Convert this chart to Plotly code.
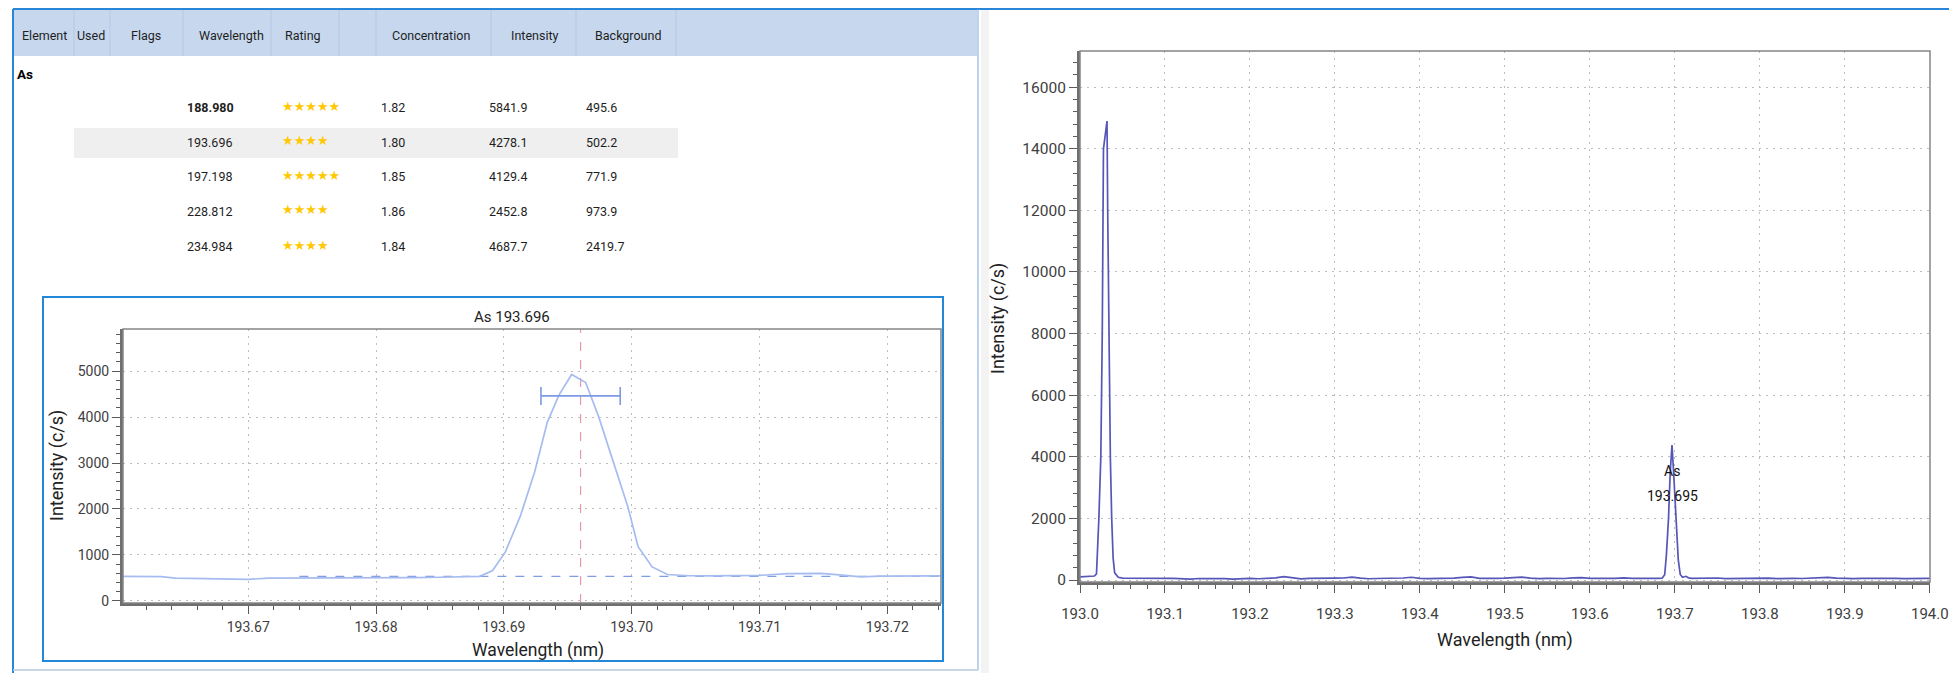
import plotly.graph_objects as go

# the page body keeps an 8px margin: the figure is drawn 8px in from the window edge
# and is sized so that the page never overflows the 1957x681 window
OX, OY = 8, 8
FW, FH = 1957 - 2 * OX, 681 - 2 * OY


def px(x):
    return (x - OX) / FW


def py(y):
    return 1 - (y - OY) / FH


# ---------------- table data ----------------
headers = ["Element", "Used", "Flags", "Wavelength", "Rating", "Concentration", "Intensity", "Background"]
element = "As"
line_wavelengths = ["188.980", "193.696", "197.198", "228.812", "234.984"]
ratings = [5, 4, 5, 4, 4]
concentrations = ["1.82", "1.80", "1.85", "1.86", "1.84"]
intensities = ["5841.9", "4278.1", "4129.4", "2452.8", "4687.7"]
backgrounds = ["495.6", "502.2", "771.9", "973.9", "2419.7"]

# ---------------- zoomed peak (As 193.696) ----------------
zoom_wl = [193.6600, 193.6610, 193.6620, 193.6632, 193.6643, 193.6655, 193.6670, 193.6688,
           193.6700, 193.6716, 193.6730, 193.6750, 193.6770, 193.6790, 193.6817, 193.6830,
           193.6850, 193.6870, 193.6881, 193.6891, 193.6901, 193.6913, 193.6924, 193.6934,
           193.6943, 193.6953, 193.6964, 193.6974, 193.6986, 193.6997, 193.7005, 193.7016,
           193.7028, 193.7045, 193.7060, 193.7080, 193.7100, 193.7122, 193.7148, 193.7165,
           193.7179, 193.7195, 193.7210, 193.7230, 193.7242]
zoom_int = [535, 535, 535, 530, 495, 490, 490, 488,
            470, 495, 495, 497, 497, 497, 500, 505,
            515, 525, 535, 655, 1055, 1855, 2800, 3890,
            4470, 4925, 4750, 4020, 3010, 2050, 1180, 740,
            575, 548, 545, 548, 555, 595, 598, 560,
            525, 538, 545, 545, 545]
background_level = 535
line_center = 193.696
bar_level = 4460
bar_halfwidth = 0.0031
bg_start, bg_end = 193.674, 193.7242

# ---------------- wide spectrum 193.0 - 194.0 nm ----------------
wide_wl = [193.000, 193.005, 193.010, 193.017, 193.0194, 193.0210, 193.0222, 193.0245, 193.0262,
           193.0276, 193.0318, 193.0326, 193.0343, 193.0357, 193.0373, 193.0390, 193.0408, 193.045,
           193.050, 193.06, 193.07, 193.08, 193.09, 193.10, 193.11, 193.12, 193.13, 193.14, 193.15,
           193.16, 193.17, 193.18, 193.19, 193.20, 193.21, 193.22, 193.23, 193.24, 193.25, 193.26,
           193.27, 193.28, 193.29, 193.30, 193.31, 193.32, 193.33, 193.34, 193.35, 193.36, 193.37,
           193.38, 193.39, 193.40, 193.41, 193.42, 193.43, 193.44, 193.45, 193.46, 193.47, 193.48,
           193.49, 193.50, 193.51, 193.52, 193.53, 193.54, 193.55, 193.56, 193.57, 193.58, 193.59,
           193.60, 193.61, 193.62, 193.63, 193.64, 193.65, 193.66, 193.67, 193.68, 193.685, 193.688,
           193.690, 193.6925, 193.6945, 193.6966, 193.6985, 193.7010, 193.7040, 193.7063, 193.709,
           193.713, 193.716, 193.72, 193.73, 193.74, 193.75, 193.76, 193.77, 193.78, 193.79, 193.80,
           193.81, 193.82, 193.83, 193.84, 193.85, 193.86, 193.87, 193.88, 193.89, 193.90, 193.91,
           193.92, 193.93, 193.94, 193.95, 193.96, 193.97, 193.98, 193.99, 194.00]
wide_int = [100, 105, 110, 130, 200, 1000, 2000, 4000, 8000,
            14000, 14900, 12000, 7000, 4000, 2000, 700, 230, 90,
            60, 55, 50, 52, 48, 50, 55, 45, 30, 48, 52,
            50, 45, 28, 50, 55, 40, 55, 70, 110, 65, 35,
            50, 45, 55, 58, 65, 95, 60, 40, 48, 52, 50,
            65, 90, 55, 45, 50, 48, 60, 85, 100, 50, 45,
            55, 60, 70, 95, 60, 45, 55, 50, 48, 70, 80,
            55, 45, 50, 55, 70, 50, 45, 55, 50, 60, 170,
            800, 2000, 3500, 4380, 3500, 2000, 650, 180, 90,
            120, 70, 55, 60, 50, 65, 45, 50, 55, 48, 52,
            60, 45, 55, 50, 48, 55, 70, 85, 60, 50, 45,
            55, 60, 50, 48, 55, 45, 50, 52, 50]
peak_label_wl = 193.697
peak_label_name = "As"
peak_label_value = "193.695"

FONT = "Segoe UI, Roboto, Open Sans, sans-serif"
GRID = "#bdbdbd"
AXIS = "#6f6f6f"

fig = go.Figure()

# small chart traces
fig.add_trace(go.Scatter(x=[line_center, line_center], y=[-45, 5915], mode="lines",
                         line=dict(color="#e79aa6", width=1.2, dash="dash"),
                         xaxis="x", yaxis="y", hoverinfo="skip"))
fig.add_trace(go.Scatter(x=[bg_start, bg_end], y=[background_level, background_level], mode="lines",
                         line=dict(color="#7f9de2", width=1.3, dash="dash"),
                         xaxis="x", yaxis="y", hoverinfo="skip"))
fig.add_trace(go.Scatter(x=zoom_wl, y=zoom_int, mode="lines",
                         line=dict(color="#a6bcf0", width=1.7),
                         xaxis="x", yaxis="y"))
fig.add_trace(go.Scatter(x=[line_center], y=[bar_level], mode="markers",
                         marker=dict(size=1, opacity=0),
                         error_x=dict(type="data", array=[bar_halfwidth], color="#7d9be0",
                                      thickness=1.6, width=9),
                         xaxis="x", yaxis="y", hoverinfo="skip"))

# wide chart trace
fig.add_trace(go.Scatter(x=wide_wl, y=wide_int, mode="lines",
                         line=dict(color="#5656b8", width=1.7),
                         xaxis="x2", yaxis="y2"))

common_axis = dict(showline=True, linewidth=3, linecolor=AXIS, ticks="outside",
                   tickcolor="#5a5a5a", tickwidth=1, ticklen=8, showgrid=True,
                   gridcolor=GRID, griddash="2px,5px", gridwidth=1, zeroline=False,
                   automargin=False, ticklabeloverflow="allow")

fig.update_layout(
    width=FW, height=FH, autosize=False,
    margin=dict(l=0, r=0, t=0, b=0, autoexpand=False),
    paper_bgcolor="white", plot_bgcolor="white",
    showlegend=False,
    xaxis=dict(domain=[px(123), px(941)], range=[193.6602, 193.7242], dtick=0.01, tick0=193.67,
               tickformat=".2f", anchor="y", ticklabelstandoff=1,
               minor=dict(dtick=0.002, tick0=193.67, ticks="outside", ticklen=4, tickcolor="#5a5a5a"),
               tickfont=dict(family=FONT, size=14, color="#404040"), **common_axis),
    yaxis=dict(domain=[py(603), py(329)], range=[-45, 5915], dtick=1000, tick0=0,
               tickformat="d", anchor="x",
               minor=dict(dtick=200, tick0=0, ticks="outside", ticklen=4, tickcolor="#5a5a5a"),
               tickfont=dict(family=FONT, size=14, color="#404040"), **common_axis),
    xaxis2=dict(domain=[px(1080), px(1930)], range=[193.0, 194.0002], dtick=0.1, tick0=193.0,
                tickformat=".1f", anchor="y2", ticklabelstandoff=8,
                minor=dict(dtick=0.02, tick0=193.0, ticks="outside", ticklen=4, tickcolor="#5a5a5a"),
                tickfont=dict(family=FONT, size=15, color="#404040"), **common_axis),
    yaxis2=dict(domain=[py(582), py(51)], range=[-65, 17175], dtick=2000, tick0=0,
                tickformat="d", anchor="x2",
                minor=dict(dtick=400, tick0=0, ticks="outside", ticklen=4, tickcolor="#5a5a5a"),
                tickfont=dict(family=FONT, size=15.5, color="#404040"), **common_axis),
)

shapes = []
# panel decorations
shapes.append(dict(type="rect", xref="paper", yref="paper", x0=px(13), x1=px(977), y0=py(56), y1=py(10),
                   fillcolor="#c7d8ee", line=dict(width=0), layer="below"))
for sx in [74, 110, 183, 271, 339, 376, 491, 576, 676]:
    shapes.append(dict(type="line", xref="paper", yref="paper", x0=px(sx), x1=px(sx), y0=py(56), y1=py(10),
                       line=dict(color="#b4c8e2", width=1), layer="below"))
shapes.append(dict(type="rect", xref="paper", yref="paper", x0=px(74), x1=px(678), y0=py(158), y1=py(128),
                   fillcolor="#efefef", line=dict(width=0), layer="below"))
shapes.append(dict(type="rect", xref="paper", yref="paper", x0=px(981), x1=px(989), y0=py(673), y1=py(10),
                   fillcolor="#f3f3f3", line=dict(width=0), layer="below"))
shapes.append(dict(type="line", xref="paper", yref="paper", x0=px(13), x1=px(1949), y0=py(9), y1=py(9),
                   line=dict(color="#2a86d8", width=2)))
shapes.append(dict(type="line", xref="paper", yref="paper", x0=px(13), x1=px(13), y0=py(673), y1=py(9),
                   line=dict(color="#2a86d8", width=2)))
shapes.append(dict(type="line", xref="paper", yref="paper", x0=px(978), x1=px(978), y0=py(670), y1=py(9),
                   line=dict(color="#7aa8dc", width=1)))
shapes.append(dict(type="line", xref="paper", yref="paper", x0=px(13), x1=px(978), y0=py(670), y1=py(670),
                   line=dict(color="#b9c9de", width=1.5)))
# small chart frame
shapes.append(dict(type="rect", xref="paper", yref="paper", x0=px(43), x1=px(943), y0=py(661), y1=py(297),
                   line=dict(color="#2187d6", width=2), fillcolor="rgba(0,0,0,0)"))
# plot borders top/right
for xa, ya in [("x", "y"), ("x2", "y2")]:
    shapes.append(dict(type="rect", xref=f"{xa} domain", yref=f"{ya} domain", x0=0, x1=1, y0=0, y1=1,
                       line=dict(color="#858585", width=1.5), fillcolor="rgba(0,0,0,0)"))

ann = []
header_x = [44, 91, 146, 231, 303, 431, 535, 628]
for htxt, hx in zip(headers, header_x):
    ann.append(dict(text=htxt, x=px(hx), y=py(35), xref="paper", yref="paper", xanchor="center",
                    yanchor="middle", showarrow=False, font=dict(family=FONT, size=12.5, color="#1e1e1e")))
ann.append(dict(text="<b>" + element + "</b>", x=px(15), y=py(74), xref="paper", yref="paper", xanchor="left",
                yanchor="middle", showarrow=False, font=dict(family=FONT, size=13.5, color="#000")))
row_y = [107, 142, 176, 211, 246]
for i, ry in enumerate(row_y):
    wl_txt = "<b>" + line_wavelengths[i] + "</b>" if i == 0 else line_wavelengths[i]
    cells = [(185, wl_txt), (379, concentrations[i]), (487, intensities[i]), (584, backgrounds[i])]
    for cx, ctxt in cells:
        ann.append(dict(text=ctxt, x=px(cx), y=py(ry), xref="paper", yref="paper", xanchor="left",
                        yanchor="middle", showarrow=False, font=dict(family=FONT, size=12.5, color="#1e1e1e")))
    ann.append(dict(text="★" * ratings[i], x=px(280), y=py(ry - 1), xref="paper", yref="paper", xanchor="left",
                    yanchor="middle", showarrow=False, font=dict(family="DejaVu Sans", size=13, color="#ffc800")))

# small chart texts
ann.append(dict(text="As " + line_wavelengths[1], x=px(512), y=py(317), xref="paper", yref="paper",
                xanchor="center", yanchor="middle", showarrow=False,
                font=dict(family=FONT, size=15, color="#222")))
ann.append(dict(text="Intensity (c/s)", x=px(57), y=py(466), xref="paper", yref="paper", textangle=-90,
                xanchor="center", yanchor="middle", showarrow=False,
                font=dict(family=FONT, size=18, color="#222")))
ann.append(dict(text="Wavelength (nm)", x=px(538), y=py(650), xref="paper", yref="paper",
                xanchor="center", yanchor="middle", showarrow=False,
                font=dict(family=FONT, size=17.5, color="#222")))
# wide chart texts
ann.append(dict(text="Intensity (c/s)", x=px(998), y=py(318), xref="paper", yref="paper", textangle=-90,
                xanchor="center", yanchor="middle", showarrow=False,
                font=dict(family=FONT, size=18, color="#222")))
ann.append(dict(text="Wavelength (nm)", x=px(1505), y=py(640), xref="paper", yref="paper",
                xanchor="center", yanchor="middle", showarrow=False,
                font=dict(family=FONT, size=18, color="#222")))
ann.append(dict(text=peak_label_name, x=peak_label_wl, y=3540, xref="x2", yref="y2",
                xanchor="center", yanchor="middle", showarrow=False,
                font=dict(family=FONT, size=14, color="#111")))
ann.append(dict(text=peak_label_value, x=peak_label_wl, y=2730, xref="x2", yref="y2",
                xanchor="center", yanchor="middle", showarrow=False,
                font=dict(family=FONT, size=14, color="#111")))

fig.update_layout(shapes=shapes, annotations=ann)
fig.write_html("out.html")
